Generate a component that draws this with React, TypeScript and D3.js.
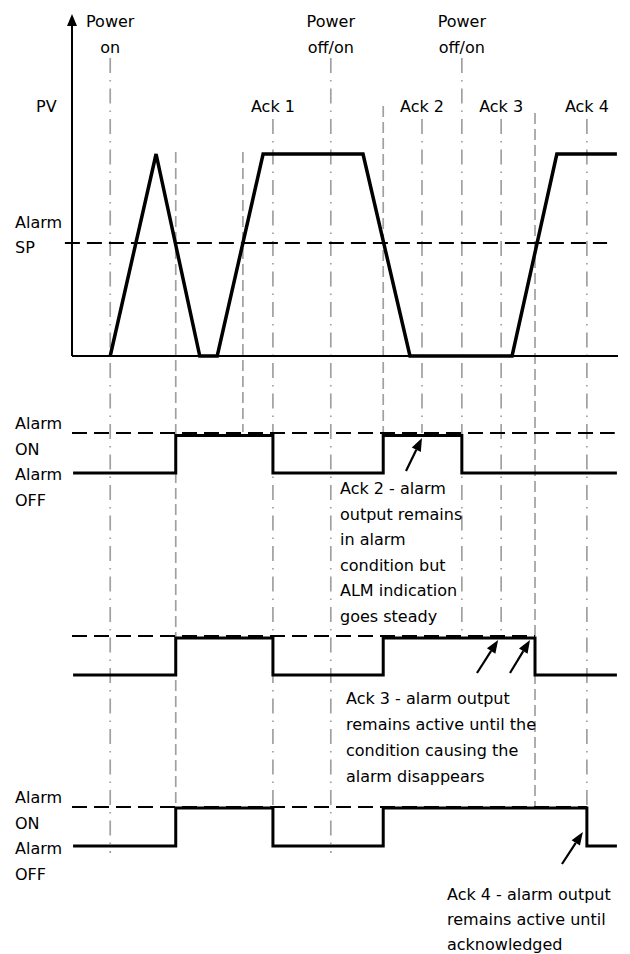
import React from "react";
import * as d3 from "d3";

// ---------- data ----------
const pvTimes = [7, 15.4, 23.4, 26.6, 35, 53.3, 61.9, 80.6, 88.8, 99.8];
const pvValues = [0, 100, 0, 0, 100, 100, 0, 0, 100, 100];
const alarmSP = 56;

const alarm1Times = [0.2, 19, 36.8, 57, 71.4, 99.8];
const alarm1States = [0, 1, 0, 1, 0, 0];
const alarm2Times = [0.2, 19, 36.8, 57, 84.8, 99.8];
const alarm2States = [0, 1, 0, 1, 0, 0];
const alarm3Times = [0.2, 19, 36.8, 57, 94.3, 99.8];
const alarm3States = [0, 1, 0, 1, 0, 0];

const markerTimes = [7, 19, 31.3, 36.8, 47.4, 57, 64.1, 71.4, 78.6, 84.8, 94.3];
const markerKinds = ["power", "cross", "cross", "ack", "power", "cross", "ack", "power", "ack", "cross", "ack"];
const markerLabels = [["Power", "on"], [], [], ["Ack 1"], ["Power", "off/on"], [], ["Ack 2"], ["Power", "off/on"], ["Ack 3"], [], ["Ack 4"]];

const ack2Text = ["Ack 2 - alarm", "output remains", "in alarm", "condition but", "ALM indication", "goes steady"];
const ack3Text = ["Ack 3 - alarm output", "remains active until the", "condition causing the", "alarm disappears"];
const ack4Text = ["Ack 4 - alarm output", "remains active until", "acknowledged"];

// ---------- layout ----------
const W = 630, H = 954;
const FONT = "'DejaVu Sans', Verdana, sans-serif";
const FS = 16;
const GRAY = "#a0a0a0";
const markerTop = [58, 152, 152, 119, 58, 106, 119, 58, 119, 113, 119];
const markerBottom = [853, 807, 432, 807, 853, 433, 433, 636, 636, 807, 807];

export default function App() {
  const x = d3.scaleLinear().domain([0, 100]).range([72, 618]);
  const yPV = d3.scaleLinear().domain([0, 100]).range([356, 154]);
  const ya1 = d3.scaleLinear().domain([0, 1]).range([473, 435.5]);
  const ya2 = d3.scaleLinear().domain([0, 1]).range([675, 638]);
  const ya3 = d3.scaleLinear().domain([0, 1]).range([846, 808]);

  const pvLine = d3.line<number>().x((_, i) => x(pvTimes[i])).y((v) => yPV(v));
  const stepLine = (times: number[], ys: d3.ScaleLinear<number, number>) =>
    d3.line<number>().curve(d3.curveStepAfter).x((_, i) => x(times[i])).y((v) => ys(v));

  const arrow = (x1: number, y1: number, x2: number, y2: number, key: string) => {
    const ang = Math.atan2(y2 - y1, x2 - x1);
    const len = 13, half = 5;
    const bx = x2 - len * Math.cos(ang), by = y2 - len * Math.sin(ang);
    const px = -Math.sin(ang) * half, py = Math.cos(ang) * half;
    return (
      <g key={key}>
        <line x1={x1} y1={y1} x2={bx} y2={by} stroke="#000" strokeWidth={2.2} />
        <path d={`M${x2},${y2}L${bx + px},${by + py}L${bx - px},${by - py}Z`} fill="#000" />
      </g>
    );
  };

  const txt = (s: string, tx: number, ty: number, anchor = "start", key?: string) => (
    <text key={key ?? s + tx + ty} x={tx} y={ty} textAnchor={anchor as any} fontFamily={FONT} fontSize={FS} fill="#000">
      {s}
    </text>
  );

  return (
    <svg width={W} height={H} style={{ position: "absolute", left: 0, top: 0, background: "#fff" }}>
      <rect width={W} height={H} fill="#fff" />
      {/* vertical markers */}
      {markerTimes.map((t, i) => (
        <line
          key={"m" + i}
          x1={x(t)}
          x2={x(t)}
          y1={markerTop[i]}
          y2={markerBottom[i]}
          stroke={GRAY}
          strokeWidth={1.7}
          strokeDasharray={markerKinds[i] === "cross" ? "11,5" : "15,7,1.5,7"}
        />
      ))}
      {/* marker labels */}
      {markerTimes.map((t, i) =>
        markerLabels[i].map((s, j) =>
          markerKinds[i] === "ack"
            ? txt(s, x(t), 112, "middle", "ml" + i + j)
            : txt(s, x(t), 27 + j * 26, "middle", "ml" + i + j)
        )
      )}
      {/* PV axes */}
      <line x1={x(0)} x2={x(0)} y1={yPV(0)} y2={24} stroke="#000" strokeWidth={2} />
      <path d={`M${x(0)},14L${x(0) - 5},26L${x(0) + 5},26Z`} fill="#000" />
      <line x1={x(0)} x2={x(100)} y1={yPV(0)} y2={yPV(0)} stroke="#000" strokeWidth={2} />
      {/* alarm SP */}
      <line x1={x(-1.3)} x2={x(98)} y1={yPV(alarmSP)} y2={yPV(alarmSP)} stroke="#000" strokeWidth={2} strokeDasharray="15,7" />
      {/* ON dashed lines */}
      <line x1={x(0)} x2={x(99.4)} y1={433} y2={433} stroke="#000" strokeWidth={2} strokeDasharray="15,7" />
      <line x1={x(0)} x2={x(84.8)} y1={636} y2={636} stroke="#000" strokeWidth={2} strokeDasharray="15,7" />
      <line x1={x(0)} x2={x(94.3)} y1={807} y2={807} stroke="#000" strokeWidth={2} strokeDasharray="15,7" />
      {/* PV trace */}
      <path d={pvLine(pvValues) ?? ""} fill="none" stroke="#000" strokeWidth={3.5} strokeLinejoin="miter" />
      {/* alarm traces */}
      <path d={stepLine(alarm1Times, ya1)(alarm1States) ?? ""} fill="none" stroke="#000" strokeWidth={3} />
      <path d={stepLine(alarm2Times, ya2)(alarm2States) ?? ""} fill="none" stroke="#000" strokeWidth={3} />
      <path d={stepLine(alarm3Times, ya3)(alarm3States) ?? ""} fill="none" stroke="#000" strokeWidth={3} />
      {/* left labels */}
      {txt("PV", 36, 112)}
      {txt("Alarm", 15, 228)}
      {txt("SP", 15, 253)}
      {["Alarm", "ON", "Alarm", "OFF"].map((s, i) => txt(s, 15, 429 + i * 25.7, "start", "l1" + i))}
      {["Alarm", "ON", "Alarm", "OFF"].map((s, i) => txt(s, 15, 803 + i * 25.7, "start", "l3" + i))}
      {/* annotations */}
      {ack2Text.map((s, i) => txt(s, 340, 494 + i * 25.6, "start", "a2" + i))}
      {ack3Text.map((s, i) => txt(s, 346, 704 + i * 26, "start", "a3" + i))}
      {ack4Text.map((s, i) => txt(s, 447, 900 + i * 25, "start", "a4" + i))}
      {arrow(406, 471, x(64.1), ya1(1) + 2.5, "ar2")}
      {arrow(477, 673, x(78.6) - 3, ya2(1) + 2, "ar3a")}
      {arrow(510, 673, x(84.8) - 5, ya2(1) + 2, "ar3b")}
      {arrow(562, 864, x(94.3) - 4, 832, "ar4")}
    </svg>
  );
}
